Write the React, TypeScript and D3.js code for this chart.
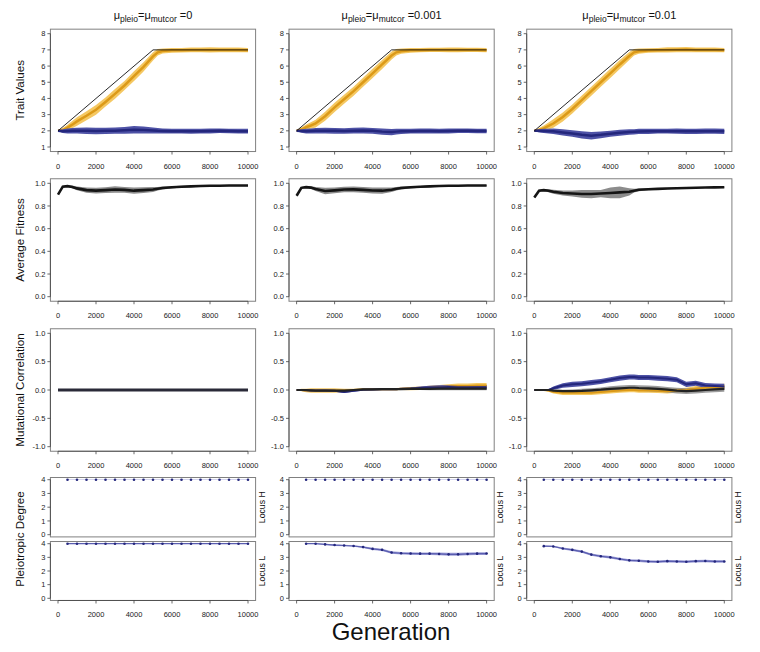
import React from 'react';
import * as d3 from 'd3';

// ---------- DATA ----------
const GENS = [0, 250, 500, 750, 1000, 1500, 2000, 2500, 3000, 3500, 4000, 4500, 5000, 5250, 5500, 6000, 6500, 7000, 7500, 8000, 8500, 9000, 9500, 10000];
const X_TICKS = [0, 2000, 4000, 6000, 8000, 10000];
const TITLES = ['0', '0.001', '0.01'];

const TARGET_GEN = [0, 5000, 10000];
const TARGET_VAL = [2, 7, 7];

const TRAIT_ORANGE_1 = [2.0, 2.05, 2.2, 2.38, 2.58, 2.93, 3.3, 3.78, 4.28, 4.8, 5.38, 5.95, 6.6, 6.85, 6.93, 6.97, 6.98, 7.0, 7.0, 7.0, 7.0, 7.0, 7.0, 6.98];
const TRAIT_ORANGE_2 = [2.0, 2.08, 2.22, 2.33, 2.45, 2.9, 3.45, 3.95, 4.45, 5.0, 5.55, 6.1, 6.65, 6.85, 6.92, 6.97, 6.98, 7.0, 7.0, 7.0, 7.0, 7.0, 7.0, 6.98];
const TRAIT_ORANGE_3 = [2.0, 2.05, 2.15, 2.3, 2.45, 2.85, 3.35, 3.9, 4.45, 5.0, 5.55, 6.1, 6.62, 6.85, 6.92, 6.96, 6.98, 7.0, 7.01, 7.02, 7.0, 7.0, 7.0, 6.98];
const TRAIT_ORANGE_SD_1 = [0.03, 0.12, 0.18, 0.22, 0.26, 0.28, 0.3, 0.28, 0.3, 0.28, 0.3, 0.28, 0.25, 0.2, 0.16, 0.14, 0.14, 0.15, 0.14, 0.16, 0.15, 0.14, 0.14, 0.13];
const TRAIT_ORANGE_SD_2 = [0.03, 0.12, 0.17, 0.2, 0.24, 0.28, 0.28, 0.28, 0.28, 0.28, 0.28, 0.28, 0.25, 0.2, 0.16, 0.14, 0.13, 0.13, 0.13, 0.14, 0.14, 0.13, 0.13, 0.13];
const TRAIT_ORANGE_SD_3 = [0.03, 0.12, 0.18, 0.22, 0.26, 0.28, 0.28, 0.28, 0.28, 0.28, 0.28, 0.28, 0.25, 0.2, 0.16, 0.14, 0.14, 0.16, 0.16, 0.16, 0.15, 0.14, 0.14, 0.13];

const TRAIT_BLUE_1 = [2.0, 1.98, 1.99, 2.0, 2.01, 2.0, 1.99, 2.0, 2.01, 2.03, 2.06, 2.05, 2.02, 2.0, 1.99, 1.98, 1.98, 1.97, 1.98, 1.99, 2.0, 1.99, 1.98, 1.98];
const TRAIT_BLUE_SD_1 = [0.03, 0.12, 0.15, 0.17, 0.18, 0.2, 0.2, 0.19, 0.19, 0.21, 0.23, 0.22, 0.19, 0.17, 0.16, 0.15, 0.14, 0.15, 0.14, 0.15, 0.14, 0.14, 0.14, 0.14];
const TRAIT_BLUE_2 = [2.0, 1.99, 1.98, 1.99, 2.0, 2.01, 2.0, 1.99, 2.01, 2.02, 2.0, 1.95, 1.92, 1.95, 1.97, 1.98, 1.99, 1.99, 1.98, 1.99, 2.0, 2.0, 1.99, 1.99];
const TRAIT_BLUE_SD_2 = [0.03, 0.11, 0.15, 0.16, 0.17, 0.18, 0.18, 0.17, 0.18, 0.19, 0.18, 0.2, 0.19, 0.17, 0.16, 0.15, 0.15, 0.15, 0.15, 0.15, 0.14, 0.14, 0.14, 0.14];
const TRAIT_BLUE_3 = [2.0, 2.0, 1.99, 1.98, 1.97, 1.9, 1.83, 1.75, 1.7, 1.75, 1.82, 1.88, 1.92, 1.94, 1.96, 1.97, 1.98, 1.98, 1.98, 1.97, 1.97, 1.98, 1.98, 1.97];
const TRAIT_BLUE_SD_3 = [0.03, 0.1, 0.13, 0.15, 0.17, 0.19, 0.2, 0.22, 0.23, 0.21, 0.19, 0.18, 0.17, 0.16, 0.16, 0.16, 0.15, 0.15, 0.16, 0.16, 0.16, 0.16, 0.16, 0.16];

const FIT_1 = [0.9, 0.97, 0.975, 0.968, 0.955, 0.94, 0.935, 0.94, 0.945, 0.942, 0.935, 0.94, 0.945, 0.952, 0.958, 0.965, 0.97, 0.973, 0.976, 0.978, 0.979, 0.98, 0.98, 0.98];
const FIT_SD_1 = [0.006, 0.008, 0.008, 0.012, 0.016, 0.024, 0.026, 0.026, 0.028, 0.026, 0.028, 0.026, 0.022, 0.016, 0.013, 0.01, 0.008, 0.007, 0.006, 0.006, 0.005, 0.005, 0.005, 0.005];
const FIT_2 = [0.89, 0.96, 0.966, 0.962, 0.95, 0.932, 0.938, 0.945, 0.946, 0.942, 0.936, 0.935, 0.943, 0.952, 0.958, 0.965, 0.969, 0.973, 0.976, 0.978, 0.979, 0.98, 0.98, 0.98];
const FIT_SD_2 = [0.006, 0.008, 0.009, 0.012, 0.018, 0.028, 0.025, 0.025, 0.026, 0.025, 0.026, 0.028, 0.02, 0.016, 0.013, 0.01, 0.008, 0.007, 0.006, 0.006, 0.005, 0.005, 0.005, 0.005];
const FIT_3 = [0.875, 0.935, 0.94, 0.935, 0.925, 0.915, 0.91, 0.906, 0.905, 0.91, 0.915, 0.92, 0.925, 0.935, 0.943, 0.948, 0.951, 0.954, 0.957, 0.959, 0.961, 0.963, 0.964, 0.965];
const FIT_SD_3 = [0.006, 0.008, 0.01, 0.013, 0.018, 0.022, 0.027, 0.034, 0.037, 0.032, 0.047, 0.052, 0.032, 0.017, 0.012, 0.009, 0.007, 0.006, 0.006, 0.005, 0.005, 0.005, 0.005, 0.005];

const MC_ZERO = [0, 0, 0, 0, 0, 0, 0, 0, 0, 0, 0, 0, 0, 0, 0, 0, 0, 0, 0, 0, 0, 0, 0, 0];
const MC_ZERO_SD = [0.008, 0.008, 0.008, 0.008, 0.008, 0.008, 0.008, 0.008, 0.008, 0.008, 0.008, 0.008, 0.008, 0.008, 0.008, 0.008, 0.008, 0.008, 0.008, 0.008, 0.008, 0.008, 0.008, 0.008];

const MC2_BLACK = [0, 0, 0, -0.005, -0.01, -0.01, -0.01, -0.01, 0, 0.01, 0.01, 0.015, 0.015, 0.015, 0.015, 0.02, 0.02, 0.02, 0.025, 0.025, 0.025, 0.025, 0.025, 0.025];
const MC2_BLACK_SD = [0.005, 0.01, 0.01, 0.012, 0.012, 0.015, 0.015, 0.015, 0.015, 0.015, 0.015, 0.015, 0.015, 0.015, 0.015, 0.02, 0.02, 0.025, 0.03, 0.03, 0.03, 0.03, 0.03, 0.03];
const MC2_BLUE = [0, 0, -0.005, -0.01, -0.01, -0.01, -0.015, -0.035, -0.015, 0.005, 0.01, 0.015, 0.015, 0.015, 0.02, 0.025, 0.035, 0.045, 0.05, 0.055, 0.05, 0.05, 0.05, 0.05];
const MC2_BLUE_SD = [0.005, 0.01, 0.01, 0.012, 0.012, 0.015, 0.015, 0.02, 0.015, 0.015, 0.015, 0.015, 0.015, 0.015, 0.015, 0.02, 0.025, 0.03, 0.035, 0.035, 0.04, 0.04, 0.04, 0.04];
const MC2_ORANGE = [0, 0, -0.01, -0.01, -0.01, -0.01, -0.01, -0.01, 0, 0.01, 0.015, 0.015, 0.015, 0.015, 0.02, 0.025, 0.03, 0.04, 0.05, 0.06, 0.07, 0.07, 0.08, 0.08];
const MC2_ORANGE_SD = [0.005, 0.02, 0.03, 0.04, 0.04, 0.04, 0.04, 0.03, 0.02, 0.02, 0.02, 0.02, 0.02, 0.02, 0.02, 0.03, 0.03, 0.035, 0.04, 0.04, 0.045, 0.045, 0.045, 0.045];

const MC3_BLACK = [0, 0, 0, 0, -0.01, -0.02, -0.02, -0.015, -0.005, 0.005, 0.02, 0.03, 0.04, 0.04, 0.035, 0.03, 0.02, 0.005, -0.01, -0.02, -0.01, 0, 0.01, 0.02];
const MC3_BLACK_SD = [0.005, 0.01, 0.01, 0.015, 0.02, 0.025, 0.03, 0.035, 0.035, 0.04, 0.045, 0.05, 0.05, 0.05, 0.05, 0.05, 0.05, 0.05, 0.05, 0.05, 0.05, 0.05, 0.05, 0.05];
const MC3_BLUE = [0, 0, 0, 0, 0.03, 0.08, 0.1, 0.11, 0.13, 0.15, 0.18, 0.21, 0.23, 0.23, 0.22, 0.22, 0.21, 0.2, 0.18, 0.1, 0.12, 0.08, 0.07, 0.06];
const MC3_BLUE_SD = [0.005, 0.01, 0.01, 0.015, 0.03, 0.04, 0.045, 0.045, 0.045, 0.045, 0.045, 0.045, 0.045, 0.045, 0.045, 0.045, 0.045, 0.045, 0.045, 0.045, 0.045, 0.045, 0.045, 0.05];
const MC3_ORANGE = [0, 0, 0, -0.01, -0.03, -0.05, -0.05, -0.05, -0.05, -0.035, -0.02, -0.01, 0, 0, -0.01, -0.01, -0.015, -0.02, -0.01, 0, 0.02, 0.04, 0.05, 0.06];
const MC3_ORANGE_SD = [0.005, 0.01, 0.01, 0.02, 0.03, 0.04, 0.04, 0.04, 0.04, 0.04, 0.04, 0.04, 0.04, 0.04, 0.04, 0.04, 0.04, 0.04, 0.04, 0.04, 0.05, 0.05, 0.05, 0.05];

const P_GENS = [500, 1000, 1500, 2000, 2500, 3000, 3500, 4000, 4500, 5000, 5500, 6000, 6500, 7000, 7500, 8000, 8500, 9000, 9500, 10000];
const P_FOUR = [4, 4, 4, 4, 4, 4, 4, 4, 4, 4, 4, 4, 4, 4, 4, 4, 4, 4, 4, 4];
const P_FOUR_SD = [0.03, 0.03, 0.03, 0.03, 0.03, 0.03, 0.03, 0.03, 0.03, 0.03, 0.03, 0.03, 0.03, 0.03, 0.03, 0.03, 0.03, 0.03, 0.03, 0.03];
const P_L_2 = [4.0, 4.0, 3.95, 3.9, 3.87, 3.83, 3.75, 3.62, 3.55, 3.35, 3.3, 3.28, 3.27, 3.27, 3.25, 3.22, 3.22, 3.25, 3.27, 3.28];
const P_L_SD_2 = [0.02, 0.02, 0.05, 0.06, 0.06, 0.06, 0.07, 0.08, 0.08, 0.09, 0.09, 0.09, 0.09, 0.09, 0.1, 0.11, 0.11, 0.1, 0.1, 0.1];
const P_L_3 = [3.82, 3.8, 3.65, 3.55, 3.42, 3.2, 3.08, 3.0, 2.88, 2.78, 2.75, 2.7, 2.68, 2.72, 2.7, 2.68, 2.72, 2.73, 2.7, 2.7];
const P_L_SD_3 = [0.04, 0.05, 0.07, 0.08, 0.08, 0.09, 0.09, 0.09, 0.09, 0.09, 0.09, 0.09, 0.09, 0.09, 0.09, 0.09, 0.09, 0.09, 0.09, 0.09];

// ---------- STYLE ----------
const FONT = "'Liberation Sans', Arial, Helvetica, sans-serif";
const ORANGE_BAND = '#F5C862';
const ORANGE_LINE = '#DC9A18';
const BLUE_BAND = '#4E52A6';
const BLUE_LINE = '#24277C';
const GRAY_BAND = '#8C8C8C';
const BLACK_LINE = '#151515';
const LAV_BAND = '#9FA1D8';

const COL_X0 = [58, 296.6, 534.3];
const PLOT_W = 190;

type Scale = d3.ScaleLinear<number, number>;

function bandPath(x: Scale, y: Scale, gens: number[], m: number[], sd: number[]) {
  const a = d3.area<number>()
    .x((_, i) => x(gens[i]))
    .y0((v, i) => y(v - sd[i]))
    .y1((v, i) => y(v + sd[i]));
  return a(m) || '';
}
function linePath(x: Scale, y: Scale, gens: number[], m: number[]) {
  const l = d3.line<number>().x((_, i) => x(gens[i])).y((v) => y(v));
  return l(m) || '';
}

function Frame(props: { x: Scale; y: Scale; yTicks: number[]; fmt: (v: number) => string; showX: boolean; children?: React.ReactNode }) {
  const { x, y, yTicks, fmt, showX } = props;
  const [d0, d1] = x.domain();
  const [e0, e1] = y.domain();
  const xp = (d1 - d0) * 0.04;
  const yp = (e1 - e0) * 0.04;
  const bx0 = x(d0 - xp), bx1 = x(d1 + xp), by0 = y(e1 + yp), by1 = y(e0 - yp);
  return (
    <g>
      {props.children}
      <rect x={bx0} y={by0} width={bx1 - bx0} height={by1 - by0} fill="none" stroke="#808080" strokeWidth={1} />
      <line x1={bx0} x2={bx0} y1={y(yTicks[0])} y2={y(yTicks[yTicks.length - 1])} stroke="#444" strokeWidth={0.8} />
      {yTicks.map((t) => (
        <g key={'y' + t}>
          <line x1={bx0 - 3} x2={bx0} y1={y(t)} y2={y(t)} stroke="#444" strokeWidth={0.8} />
          <text x={bx0 - 5} y={y(t)} dy="0.35em" textAnchor="end" fontSize={7.5} fill="#222" fontFamily={FONT}>{fmt(t)}</text>
        </g>
      ))}
      {showX && (
        <g>
          <line x1={x(X_TICKS[0])} x2={x(X_TICKS[X_TICKS.length - 1])} y1={by1} y2={by1} stroke="#444" strokeWidth={0.8} />
          {X_TICKS.map((t) => (
            <g key={'x' + t}>
              <line x1={x(t)} x2={x(t)} y1={by1} y2={by1 + 3} stroke="#444" strokeWidth={0.8} />
              <text x={x(t)} y={by1 + 17} textAnchor="middle" fontSize={7.5} fill="#222" fontFamily={FONT}>{String(t)}</text>
            </g>
          ))}
        </g>
      )}
    </g>
  );
}

const ROW_TRAIT: [number, number] = [147, 33.7];
const ROW_FIT: [number, number] = [296.7, 183.3];
const ROW_MC: [number, number] = [446.7, 333.3];
const ROW_PH: [number, number] = [534.7, 479.7];
const ROW_PL: [number, number] = [598.3, 543.7];

const traitO = [TRAIT_ORANGE_1, TRAIT_ORANGE_2, TRAIT_ORANGE_3];
const traitOS = [TRAIT_ORANGE_SD_1, TRAIT_ORANGE_SD_2, TRAIT_ORANGE_SD_3];
const traitB = [TRAIT_BLUE_1, TRAIT_BLUE_2, TRAIT_BLUE_3];
const traitBS = [TRAIT_BLUE_SD_1, TRAIT_BLUE_SD_2, TRAIT_BLUE_SD_3];
const fit = [FIT_1, FIT_2, FIT_3];
const fitS = [FIT_SD_1, FIT_SD_2, FIT_SD_3];
const mcO = [MC_ZERO, MC2_ORANGE, MC3_ORANGE];
const mcOS = [MC_ZERO_SD, MC2_ORANGE_SD, MC3_ORANGE_SD];
const mcB = [MC_ZERO, MC2_BLUE, MC3_BLUE];
const mcBS = [MC_ZERO_SD, MC2_BLUE_SD, MC3_BLUE_SD];
const mcK = [MC_ZERO, MC2_BLACK, MC3_BLACK];
const mcKS = [MC_ZERO_SD, MC2_BLACK_SD, MC3_BLACK_SD];
const pL = [P_FOUR, P_L_2, P_L_3];
const pLS = [P_FOUR_SD, P_L_SD_2, P_L_SD_3];

const f0 = (v: number) => String(v);
const f1 = (v: number) => v.toFixed(1);

function Column({ c }: { c: number }) {
  const x = d3.scaleLinear().domain([0, 10000]).range([COL_X0[c], COL_X0[c] + PLOT_W]);
  const yT = d3.scaleLinear().domain([1, 8]).range(ROW_TRAIT);
  const yF = d3.scaleLinear().domain([0, 1]).range(ROW_FIT);
  const yM = d3.scaleLinear().domain([-1, 1]).range(ROW_MC);
  const yH = d3.scaleLinear().domain([0, 4]).range(ROW_PH);
  const yL = d3.scaleLinear().domain([0, 4]).range(ROW_PL);
  const boxR = x(10400);
  const boxC = (x(-400) + boxR) / 2;
  return (
    <g>
      <text x={boxC} y={19} textAnchor="middle" fontFamily={FONT} fontSize={11} fill="#111">
        μ<tspan fontSize={8.5} dy={3}>pleio</tspan><tspan dy={-3}>=μ</tspan><tspan fontSize={8.5} dy={3}>mutcor</tspan><tspan dy={-3}>{' =' + TITLES[c]}</tspan>
      </text>
      <Frame x={x} y={yT} yTicks={[1, 2, 3, 4, 5, 6, 7, 8]} fmt={f0} showX={true}>
        <path d={bandPath(x, yT, GENS, traitO[c], traitOS[c])} fill={ORANGE_BAND} />
        <path d={linePath(x, yT, GENS, traitO[c])} fill="none" stroke={ORANGE_LINE} strokeWidth={2.5} />
        <path d={bandPath(x, yT, GENS, traitB[c], traitBS[c])} fill={BLUE_BAND} />
        <path d={linePath(x, yT, GENS, traitB[c])} fill="none" stroke={BLUE_LINE} strokeWidth={2.5} />
        <path d={linePath(x, yT, TARGET_GEN, TARGET_VAL)} fill="none" stroke="#111" strokeWidth={0.9} />
      </Frame>
      <Frame x={x} y={yF} yTicks={[0, 0.2, 0.4, 0.6, 0.8, 1.0]} fmt={f1} showX={true}>
        <path d={bandPath(x, yF, GENS, fit[c], fitS[c])} fill={GRAY_BAND} />
        <path d={linePath(x, yF, GENS, fit[c])} fill="none" stroke={BLACK_LINE} strokeWidth={2.6} />
      </Frame>
      <Frame x={x} y={yM} yTicks={[-1, -0.5, 0, 0.5, 1]} fmt={f1} showX={true}>
        <path d={bandPath(x, yM, GENS, mcO[c], mcOS[c])} fill={ORANGE_BAND} />
        <path d={bandPath(x, yM, GENS, mcB[c], mcBS[c])} fill={BLUE_BAND} />
        <path d={bandPath(x, yM, GENS, mcK[c], mcKS[c])} fill={GRAY_BAND} fillOpacity={0.85} />
        <path d={linePath(x, yM, GENS, mcO[c])} fill="none" stroke={ORANGE_LINE} strokeWidth={2} />
        <path d={linePath(x, yM, GENS, mcB[c])} fill="none" stroke={BLUE_LINE} strokeWidth={2} />
        <path d={linePath(x, yM, GENS, mcK[c])} fill="none" stroke={c === 0 ? '#2a2a38' : '#222'} strokeWidth={c === 0 ? 3 : 2.2} />
      </Frame>
      <Frame x={x} y={yH} yTicks={[0, 1, 2, 3, 4]} fmt={f0} showX={false}>
        <path d={bandPath(x, yH, P_GENS, P_FOUR, P_FOUR_SD)} fill={LAV_BAND} fillOpacity={0.6} />
        {P_GENS.map((g, i) => (
          <circle key={g} cx={x(g)} cy={yH(P_FOUR[i])} r={1.3} fill={BLUE_LINE} />
        ))}
      </Frame>
      <Frame x={x} y={yL} yTicks={[0, 1, 2, 3, 4]} fmt={f0} showX={true}>
        <path d={bandPath(x, yL, P_GENS, pL[c], pLS[c])} fill={LAV_BAND} />
        <path d={linePath(x, yL, P_GENS, pL[c])} fill="none" stroke="#5a5db0" strokeWidth={1.2} />
        {P_GENS.map((g, i) => (
          <circle key={g} cx={x(g)} cy={yL(pL[c][i])} r={1.3} fill={BLUE_LINE} />
        ))}
      </Frame>
      <text transform={`translate(${boxR + 9},${(yH(4.16) + yH(-0.16)) / 2}) rotate(-90)`} textAnchor="middle" fontFamily={FONT} fontSize={8.7} fill="#111">Locus H</text>
      <text transform={`translate(${boxR + 9},${(yL(4.16) + yL(-0.16)) / 2}) rotate(-90)`} textAnchor="middle" fontFamily={FONT} fontSize={8.7} fill="#111">Locus L</text>
    </g>
  );
}

const Y_LABELS = ['Trait Values', 'Average Fitness', 'Mutational Correlation', 'Pleiotropic Degree'];
const Y_LABEL_CY = [90.3, 240, 390, 539];

export default function App() {
  return (
    <svg width={760} height={652} viewBox="0 0 760 652" style={{ position: 'absolute', left: 0, top: 0, background: '#fff' }}>
      <rect x={0} y={0} width={760} height={652} fill="#fff" />
      {[0, 1, 2].map((c) => <Column key={c} c={c} />)}
      {Y_LABELS.map((t, i) => (
        <text key={t} transform={`translate(23.5,${Y_LABEL_CY[i]}) rotate(-90)`} textAnchor="middle" fontFamily={FONT} fontSize={11.6} fill="#111">{t}</text>
      ))}
      <text x={391} y={640} textAnchor="middle" fontFamily={FONT} fontSize={24} fill="#111">Generation</text>
    </svg>
  );
}
